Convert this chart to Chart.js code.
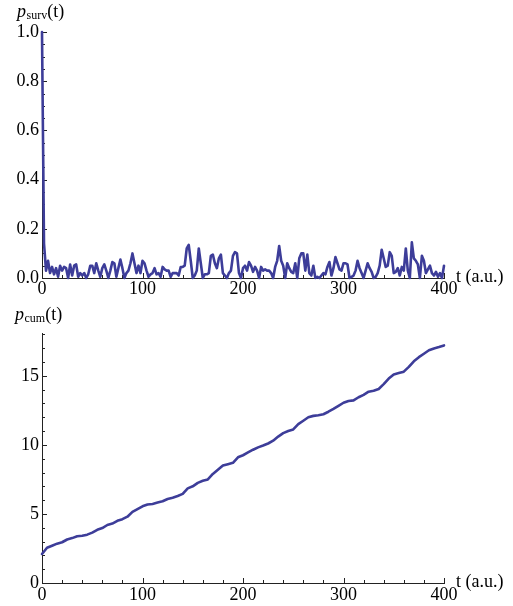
<!DOCTYPE html>
<html><head><meta charset="utf-8">
<script src="https://cdn.jsdelivr.net/npm/chart.js@4"></script>
<style>
html,body{margin:0;padding:0;background:#fff;}
#wrap{position:relative;width:513px;height:606px;overflow:hidden;}
canvas{position:absolute;left:0;}
#c1{top:0;} #c2{top:300px;}
</style></head><body>
<div id="wrap"><canvas id="c1" width="513" height="300"></canvas><canvas id="c2" width="513" height="306"></canvas></div>
<script>
// ---------- data ----------
const tSurv = [
 0,2,4,6,8,10,12,14,16,18, 20,22,24,26,28,30,32,34,36,38,
 40,42,44,46,48,50,52,54,56,58, 60,62,64,66,68,70,72,74,76,78,
 80,82,84,86,88,90,92,94,96,98, 100,102,104,106,108,110,112,114,116,118,
 120,122,124,126,128,130,132,134,136,138, 140,142,144,146,148,150,152,154,156,158,
 160,162,164,166,168,170,172,174,176,178, 180,182,184,186,188,190,192,194,196,198,
 200,202,204,206,208,210,212,214,216,218, 220,222,224,226,228,230,232,234,236,238,
 240,242,244,246,248,250,252,254,256,258, 260,262,264,266,268,270,272,274,276,278,
 280,282,284,286,288,290,292,294,296,298, 300,302,304,306,308,310,312,314,316,318,
 320,322,324,326,328,330,332,334,336,338, 340,342,344,346,348,350,352,354,356,358,
 360,362,364,366,368,370,372,374,376,378, 380,382,384,386,388,390,392,394,396,398,
 400];
const pSurv = [
 1.0,0.14,0.03,0.07,0.02,0.045,0.015,0.04,0.005,0.05,
 0.03,0.045,0.04,0.0,0.055,0.01,0.05,0.055,0.005,0.02,
 0.01,0.02,0.0,0.015,0.05,0.05,0.02,0.06,0.03,0.005,
 0.04,0.055,0.03,0.0,0.03,0.065,0.06,0.005,0.04,0.075,
 0.04,0.0,0.02,0.03,0.06,0.1,0.06,0.02,0.05,0.02,
 0.07,0.06,0.03,0.005,0.015,0.02,0.04,0.015,0.02,0.005,
 0.045,0.035,0.03,0.03,0.005,0.02,0.02,0.02,0.01,0.045,
 0.045,0.05,0.12,0.135,0.07,0.0,0.01,0.03,0.12,0.06,
 0.0,0.015,0.015,0.02,0.09,0.095,0.06,0.04,0.08,0.095,
 0.02,0.01,0.0,0.02,0.03,0.09,0.105,0.1,0.02,0.0,
 0.04,0.05,0.03,0.065,0.05,0.025,0.045,0.03,0.0,0.045,
 0.03,0.035,0.03,0.03,0.02,0.0,0.045,0.07,0.13,0.07,
 0.05,0.0,0.06,0.04,0.025,0.02,0.06,0.0,0.08,0.1,
 0.1,0.03,0.095,0.02,0.01,0.05,0.0,0.005,0.0,0.01,
 0.02,0.015,0.045,0.065,0.01,0.04,0.085,0.06,0.035,0.03,
 0.06,0.06,0.055,0.0,0.005,0.01,0.03,0.07,0.04,0.02,
 0.0,0.03,0.06,0.04,0.025,0.0,0.005,0.02,0.05,0.115,
 0.08,0.045,0.05,0.105,0.09,0.02,0.025,0.04,0.01,0.045,
 0.03,0.12,0.03,0.0,0.145,0.08,0.07,0.055,0.0,0.09,
 0.07,0.02,0.035,0.05,0.02,0.01,0.025,0.005,0.02,0.0,
 0.05];
const tCum = [
 0,5,10,15,20,25,30,35,40,45,50,55,60,65,70,75,80,85,90,95,
 100,105,110,115,120,125,130,135,140,145,150,155,160,165,170,175,180,185,190,195,
 200,205,210,215,220,225,230,235,240,245,250,255,260,265,270,275,280,285,290,295,
 300,305,310,315,320,325,330,335,340,345,350,355,360,365,370,375,380,385,390,395,
 400];
const pCum = [
 2.1,2.55,2.7,2.85,2.95,3.15,3.25,3.38,3.42,3.5,3.65,3.85,3.98,4.2,4.3,4.5,4.62,4.8,5.15,5.35,
 5.55,5.68,5.72,5.82,5.92,6.08,6.18,6.3,6.45,6.85,7.0,7.25,7.4,7.5,7.9,8.2,8.5,8.6,8.7,9.1,
 9.25,9.45,9.65,9.82,9.95,10.1,10.3,10.6,10.85,11.0,11.12,11.5,11.75,12.0,12.1,12.15,12.22,12.4,12.6,12.82,
 13.05,13.18,13.22,13.45,13.62,13.85,13.92,14.05,14.4,14.8,15.1,15.2,15.3,15.65,16.05,16.35,16.6,16.85,16.98,17.08,
 17.2];

// tick labels
const xTicks = [0,100,200,300,400];
const survYTicks = [0,0.2,0.4,0.6,0.8,1.0];
const cumYTicks = [0,5,10,15];

// ---------- style ----------
const LINE = '#3d3d99';
const AXIS = '#222';
const FONT = '"Liberation Serif", "DejaVu Serif", serif';

function minorList(from, to, step, majors){
  const out=[]; for(let v=from; v<=to+1e-9; v+=step){ const r=Math.round(v*1000)/1000; if(!majors.some(m=>Math.abs(m-r)<1e-9)) out.push(r);} return out;
}

const axesPlugin = {
  id:'mmaAxes',
  beforeDatasetsDraw(chart){
    const o = chart.options.plugins.mmaAxes;
    const {ctx, chartArea:a, scales:{x,y}} = chart;
    ctx.save(); ctx.strokeStyle=AXIS; ctx.lineWidth=1;
    const tx=(vals,len)=>vals.forEach(v=>{const px=Math.round(x.getPixelForValue(v))+0.5; ctx.beginPath(); ctx.moveTo(px,a.bottom); ctx.lineTo(px,a.bottom-len); ctx.stroke();});
    const ty=(vals,len)=>vals.forEach(v=>{const py=Math.round(y.getPixelForValue(v))+0.5; ctx.beginPath(); ctx.moveTo(a.left,py); ctx.lineTo(a.left+len,py); ctx.stroke();});
    tx(o.xMajor,5); tx(o.xMinor,3); ty(o.yMajor,5); ty(o.yMinor,3);
    ctx.restore();
  },
  afterDraw(chart){
    const o = chart.options.plugins.mmaAxes;
    const {ctx, chartArea:a} = chart;
    ctx.save(); ctx.fillStyle='#000'; ctx.textBaseline='alphabetic'; ctx.textAlign='left';
    // y title
    let x0=o.titleX, b=o.titleY;
    ctx.font='italic 18px '+FONT; ctx.fillText('p',x0,b); x0+=ctx.measureText('p').width+0.5;
    ctx.font='12px '+FONT; ctx.fillText(o.sub,x0,b+1.5); x0+=ctx.measureText(o.sub).width;
    ctx.font='18px '+FONT; ctx.fillText('(t)',x0,b);
    // x title
    ctx.font='18px '+FONT; ctx.fillText('t (a.u.)', a.right+12, a.bottom+4);
    ctx.restore();
  }
};

function makeChart(id, xs, ys, cfg){
  const data = xs.map((t,i)=>({x:t,y:ys[i]}));
  return new Chart(document.getElementById(id), {
    type:'line',
    data:{datasets:[{data, borderColor:LINE, borderWidth:2.6, pointRadius:0, tension:0, fill:false, clip:4, borderJoinStyle:'round', borderCapStyle:'round'}]},
    options:{
      responsive:false, animation:false, devicePixelRatio:1, events:[],
      layout:{padding:{left:0,right:69,top:cfg.top,bottom:0}},
      plugins:{legend:{display:false}, tooltip:{enabled:false},
        mmaAxes:{xMajor:xTicks, xMinor:minorList(0,400,20,xTicks), yMajor:cfg.yTicks, yMinor:cfg.yMinor, sub:cfg.sub, titleX:cfg.titleX, titleY:cfg.titleY}},
      scales:{
        x:{type:'linear', min:0, max:400,
          afterBuildTicks:s=>{s.ticks=xTicks.map(v=>({value:v}));},
          afterFit:s=>{s.height=cfg.xh;},
          ticks:{autoSkip:false, maxRotation:0, padding:cfg.xpad, color:'#000', font:{family:FONT,size:18}},
          grid:{display:false, drawTicks:false}, border:{display:true,color:AXIS,width:1}},
        y:{type:'linear', min:0, max:cfg.ymax,
          afterBuildTicks:s=>{s.ticks=cfg.yTicks.map(v=>({value:v}));},
          afterFit:s=>{s.width=42;},
          ticks:{autoSkip:false, padding:3, color:'#000', font:{family:FONT,size:18}, callback:cfg.fmt},
          grid:{display:false, drawTicks:false}, border:{display:true,color:AXIS,width:1}}
      }
    },
    plugins:[axesPlugin]
  });
}

makeChart('c1', tSurv, pSurv, {top:32, xh:22, xpad:0, ymax:1.0, yTicks:survYTicks, yMinor:minorList(0,1,0.05,survYTicks), fmt:v=>Number(v).toFixed(1), sub:'surv', titleX:17, titleY:17});
makeChart('c2', tCum, pCum, {top:33, xh:23, xpad:1, ymax:18.1, yTicks:cumYTicks, yMinor:minorList(0,18,1,cumYTicks), fmt:v=>String(v), sub:'cum', titleX:15, titleY:20});
</script>
</body></html>
